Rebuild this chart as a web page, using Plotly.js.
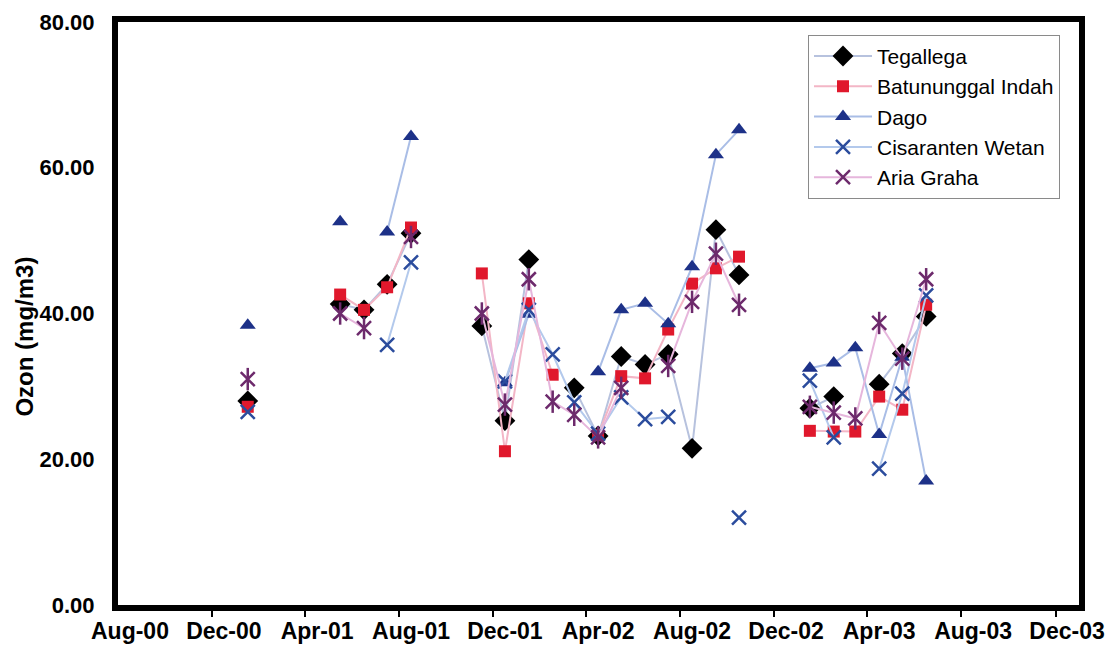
<!DOCTYPE html>
<html>
<head>
<meta charset="utf-8">
<script src="https://cdn.plot.ly/plotly-3.0.1.min.js"></script>
<style>
  html, body { margin: 0; padding: 0; background: #ffffff; }
  #chart { width: 1107px; height: 656px; }
</style>
</head>
<body>
<div id="chart"></div>
<script>
// Monthly ozone readings, Jan 2001 – Jun 2003 (null = no measurement)
const months = [
  '2001-01-01','2001-02-01','2001-03-01','2001-04-01','2001-05-01','2001-06-01',
  '2001-07-01','2001-08-01','2001-09-01','2001-10-01','2001-11-01','2001-12-01',
  '2002-01-01','2002-02-01','2002-03-01','2002-04-01','2002-05-01','2002-06-01',
  '2002-07-01','2002-08-01','2002-09-01','2002-10-01','2002-11-01','2002-12-01',
  '2003-01-01','2003-02-01','2003-03-01','2003-04-01','2003-05-01','2003-06-01'
];

const tegallega = [
  28.0, null, null, null, 41.3, 40.5, 44.0, 51.0, null, null, 38.3, 25.3,
  47.4, null, 29.8, 23.2, 34.1, 33.0, 34.4, 21.5, 51.5, 45.3, null, null,
  27.0, 28.6, null, 30.3, 34.5, 39.6
];
const batununggal = [
  27.2, null, null, null, 42.6, 40.5, 43.6, 51.8, null, null, 45.5, 21.1,
  41.4, 31.6, null, 23.3, 31.4, 31.1, 37.8, 44.1, 46.2, 47.8, null, null,
  23.9, 23.8, 23.8, 28.6, 26.8, 41.2
];
const dago = [
  38.4, null, null, null, 52.6, null, 51.2, 64.3, null, null, null, 30.5,
  39.9, null, null, 32.0, 40.5, 41.4, 38.6, 46.4, 61.8, 65.2, null, null,
  32.5, 33.2, 35.3, 23.4, 34.0, 17.0
];
const cisaranten = [
  26.5, null, null, null, null, null, 35.7, 47.0, null, null, null, 30.7,
  40.5, 34.4, 27.8, 23.5, 28.5, 25.5, 25.8, null, null, 12.0, null, null,
  30.8, 23.0, null, 18.7, 29.0, 42.5
];
const ariaGraha = [
  31.0, null, null, null, 40.0, 38.0, null, 50.5, null, null, 40.0, 27.5,
  44.7, 27.9, 26.1, 23.0, 29.8, null, 32.8, 41.6, 48.2, 41.2, null, null,
  27.2, 26.4, 25.6, 38.7, 33.8, 44.7
];

// Axis labels every four months, tick marks on the month-slot boundaries
const labelDates = ['2000-08-01','2000-12-01','2001-04-01','2001-08-01','2001-12-01',
  '2002-04-01','2002-08-01','2002-12-01','2003-04-01','2003-08-01','2003-12-01'];
const labelText = ['Aug-00','Dec-00','Apr-01','Aug-01','Dec-01',
  'Apr-02','Aug-02','Dec-02','Apr-03','Aug-03','Dec-03'];
const boundaryDates = ['2000-11-16','2001-03-16','2001-07-16','2001-11-16',
  '2002-03-16','2002-07-16','2002-11-16','2003-03-16','2003-07-16','2003-11-16'];

const yTitle = 'Ozon (mg/m3)';

const FONT = 'Liberation Sans, Arial, Helvetica, sans-serif';

function series(name, y, lineColor, symbol, markerColor, size, lineW, extra) {
  return Object.assign({
    type: 'scatter', mode: 'lines+markers', name: name,
    x: months, y: y,
    line: { color: lineColor, width: 2 },
    marker: { symbol: symbol, color: markerColor, size: size,
              line: { color: markerColor, width: lineW } },
    connectgaps: false
  }, extra || {});
}

const traces = [
  series('Tegallega', tegallega, '#b7c2de', 'diamond', '#000000', 16, 0),
  series('Batununggal Indah', batununggal, '#f3b6c6', 'square', '#e0182c', 12, 0),
  series('Dago', dago, '#a9bde6', 'triangle-up', '#1d3188', 14, 0),
  series('Cisaranten Wetan', cisaranten, '#b3c9ec', 'x-thin-open', '#2b4c9d', 14, 2.5),
  series('Aria Graha', ariaGraha, '#e6b6dc', 'x-thin-open', '#6d2a6c', 14, 2.5,
    { legendgroup: 'aria' }),
  // vertical stroke completing the star marker
  { type: 'scatter', mode: 'markers', x: months, y: ariaGraha,
    legendgroup: 'aria', showlegend: false, hoverinfo: 'skip',
    marker: { symbol: 'line-ns-open', size: 16, color: '#6d2a6c',
              line: { color: '#6d2a6c', width: 2.5 } } }
];

const layout = {
  width: 1107, height: 656,
  margin: { l: 118, r: 28, t: 22, b: 51 },
  paper_bgcolor: '#ffffff', plot_bgcolor: '#ffffff',
  font: { family: FONT, color: '#000000' },
  showlegend: true,
  legend: {
    x: 0.718, y: 0.978, xanchor: 'left', yanchor: 'top',
    bgcolor: '#ffffff', bordercolor: '#8a8a8a', borderwidth: 1,
    font: { family: FONT, size: 21, color: '#000000' },
    itemwidth: 58, tracegroupgap: 0
  },
  xaxis: {
    type: 'date',
    range: ['2000-07-16 12:00', '2003-12-16 12:00'],
    tickmode: 'array', tickvals: labelDates, ticktext: labelText,
    ticks: '', ticklabelstandoff: 0,
    tickfont: { family: FONT, size: 23, weight: 'bold', color: '#000000' },
    minor: { tickmode: 'array', tickvals: boundaryDates, ticks: 'outside',
             ticklen: 6, tickwidth: 2, tickcolor: '#000000', showgrid: false },
    showgrid: false, zeroline: false,
    showline: true, linewidth: 6, linecolor: '#000000', mirror: true
  },
  yaxis: {
    range: [0, 80], tickmode: 'linear', tick0: 0, dtick: 20,
    tickformat: '.2f', ticks: '', ticklabelstandoff: 13,
    tickfont: { family: FONT, size: 22, weight: 'bold', color: '#000000' },
    showgrid: false, zeroline: false,
    showline: true, linewidth: 6, linecolor: '#000000', mirror: true
  },
  annotations: [{
    text: yTitle, textangle: -90, showarrow: false,
    xref: 'paper', yref: 'paper', x: -0.097, y: 0.46,
    xanchor: 'center', yanchor: 'middle',
    font: { family: FONT, size: 24, weight: 'bold', color: '#000000' }
  }]
};

Plotly.newPlot('chart', traces, layout, { displayModeBar: false, staticPlot: true });
</script>
</body>
</html>
